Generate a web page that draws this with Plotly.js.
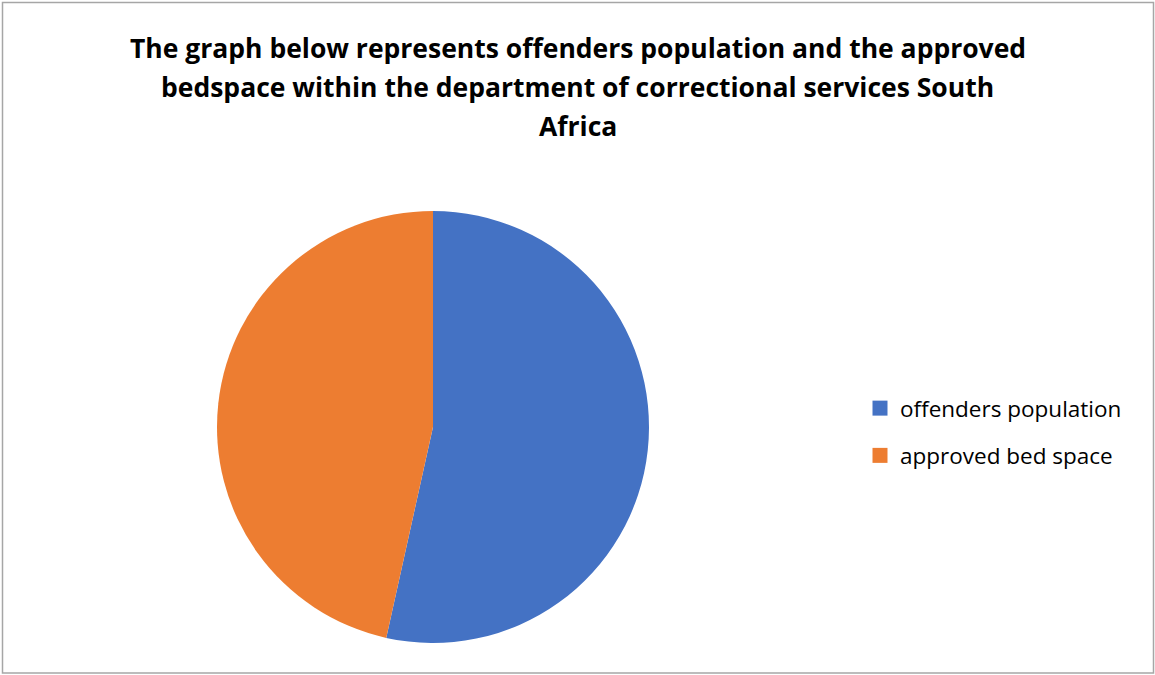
<!DOCTYPE html>
<html>
<head>
<meta charset="utf-8">
<script src="https://cdn.plot.ly/plotly-3.0.1.min.js"></script>
<style>html,body{margin:0;padding:0;background:#fff;}#chart{width:1155px;height:675px;}</style>
</head>
<body>
<div id="chart"></div>
<script>
const categories = ["offenders population", "approved bed space"];
const values = [137000, 119200];
const colors = ["#4472C4", "#ED7D31"];
const titleLines = [
  "The graph below represents offenders population and the approved",
  "bedspace within the department of correctional services South",
  "Africa"
];

const W = 1155, H = 675;
const cx = 433, cy = 427, r = 216;

const pie = {
  type: "pie",
  labels: categories,
  values: values,
  sort: false,
  direction: "clockwise",
  rotation: 0,
  textinfo: "none",
  hoverinfo: "label+value+percent",
  showlegend: false,
  marker: { colors: colors, line: { width: 0 } },
  domain: { x: [(cx - r) / W, (cx + r) / W], y: [(H - cy - r) / H, (H - cy + r) / H] }
};

// legend entries (one per slice, same labels/colours as the pie)
const legendEntries = categories.map((c, i) => ({
  type: "scatter", mode: "markers",
  x: [null], y: [null],
  name: c, legendgroup: "g" + i,
  marker: { symbol: "square", size: 15, color: colors[i] },
  hoverinfo: "skip"
}));

const titleY = [48, 87, 126];
const annotations = titleLines.map((t, i) => ({
  text: "<b>" + t + "</b>",
  xref: "paper", yref: "paper",
  x: 0.5, y: 1 - titleY[i] / H,
  xanchor: "center", yanchor: "middle",
  showarrow: false,
  font: { family: "Open Sans, sans-serif", size: 26.5, color: "#000" }
}));

const layout = {
  width: W, height: H,
  margin: { l: 0, r: 0, t: 0, b: 0 },
  paper_bgcolor: "#fff",
  plot_bgcolor: "rgba(0,0,0,0)",
  xaxis: { visible: false },
  yaxis: { visible: false },
  showlegend: true,
  legend: {
    x: 860 / W, y: 1 - 432 / H, xanchor: "left", yanchor: "middle",
    font: { family: "Open Sans, sans-serif", size: 22.5, color: "#000" },
    tracegroupgap: 15,
    bgcolor: "rgba(0,0,0,0)"
  },
  annotations: annotations,
  shapes: [{
    type: "rect", xref: "paper", yref: "paper",
    x0: 2.5 / W, x1: 1 - 1.5 / W, y0: 2 / H, y1: 1 - 2.5 / H,
    line: { color: "#A6A6A6", width: 1.5 }
  }]
};

Plotly.newPlot("chart", [pie].concat(legendEntries), layout, { displayModeBar: false, staticPlot: true });
</script>
</body>
</html>
